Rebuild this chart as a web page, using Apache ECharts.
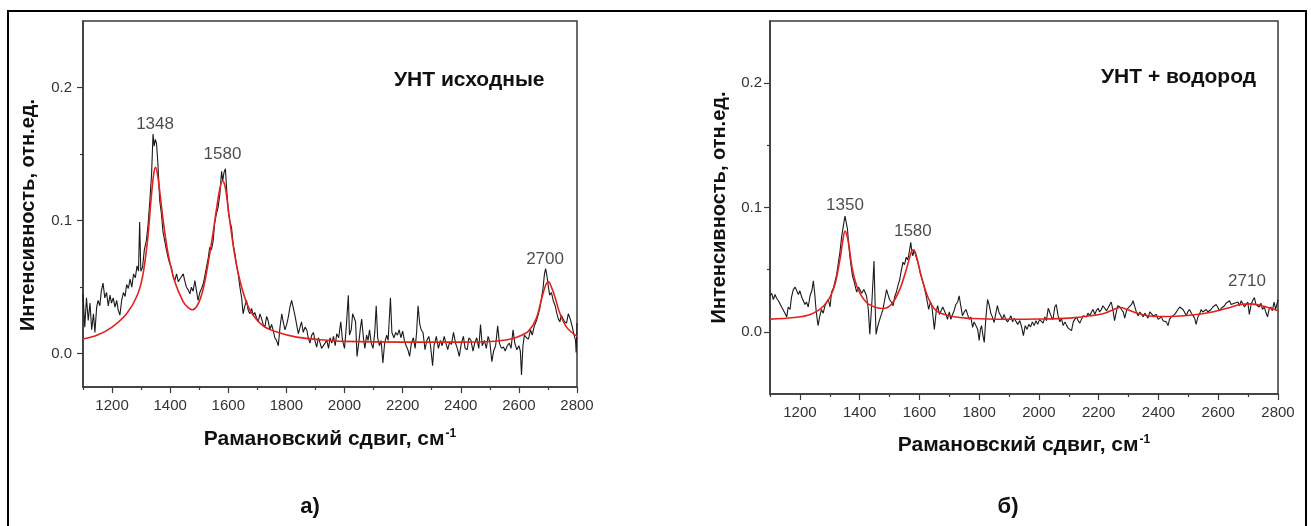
<!DOCTYPE html>
<html>
<head>
<meta charset="utf-8">
<title>Raman spectra</title>
<script src="https://cdn.jsdelivr.net/npm/echarts@6/dist/echarts.min.js"></script>
<style>
  html, body { margin: 0; padding: 0; background: #fff; }
  #chart { width: 1311px; height: 526px; }
</style>
</head>
<body>
<div id="chart"></div>
<script>
// ось x: рамановский сдвиг, см-1
var xMin = 1100, xMax = 2800;
var xTicks = [1200, 1400, 1600, 1800, 2000, 2200, 2400, 2600, 2800];
var xMinorTicks = [1100, 1300, 1500, 1700, 1900, 2100, 2300, 2500, 2700];
var yTicks = [0, 0.1, 0.2];
var yMinorTicks = [0.05, 0.15];

// а) УНТ исходные — спектр
var rawA = [
  [1100,0.045],[1106,0.020],[1112,0.042],[1118,0.025],[1124,0.038],[1130,0.018],[1136,0.030],[1141,0.016],
  [1147,0.035],[1152,0.040],[1158,0.036],[1163,0.047],[1169,0.053],[1175,0.042],[1181,0.046],[1187,0.036],
  [1193,0.044],[1198,0.038],[1204,0.042],[1210,0.035],[1216,0.040],[1221,0.033],[1227,0.029],[1233,0.040],
  [1239,0.046],[1245,0.043],[1250,0.052],[1256,0.049],[1262,0.056],[1268,0.050],[1274,0.060],[1280,0.057],
  [1286,0.066],[1291,0.062],[1295,0.099],[1299,0.062],[1305,0.065],[1311,0.078],[1318,0.085],[1324,0.097],
  [1330,0.115],[1336,0.135],[1341,0.165],[1345,0.156],[1349,0.161],[1353,0.158],[1358,0.142],[1364,0.115],
  [1370,0.105],[1375,0.092],[1381,0.085],[1387,0.078],[1393,0.072],[1398,0.068],[1404,0.065],[1410,0.058],
  [1416,0.055],[1422,0.060],[1428,0.054],[1433,0.056],[1439,0.058],[1445,0.060],[1450,0.055],[1456,0.050],
  [1462,0.048],[1468,0.045],[1473,0.050],[1479,0.047],[1485,0.055],[1490,0.048],[1496,0.040],[1502,0.046],
  [1508,0.049],[1513,0.052],[1519,0.058],[1525,0.065],[1531,0.072],[1536,0.080],[1542,0.078],[1548,0.085],
  [1553,0.098],[1559,0.105],[1565,0.110],[1571,0.120],[1577,0.137],[1581,0.130],[1585,0.136],[1590,0.139],
  [1594,0.125],[1600,0.107],[1605,0.100],[1611,0.095],[1617,0.082],[1623,0.075],[1628,0.067],[1634,0.060],
  [1640,0.050],[1646,0.042],[1651,0.030],[1657,0.036],[1663,0.040],[1668,0.033],[1674,0.030],[1680,0.034],
  [1686,0.029],[1691,0.031],[1697,0.027],[1703,0.024],[1709,0.030],[1715,0.026],[1720,0.022],[1726,0.020],
  [1732,0.028],[1737,0.025],[1743,0.018],[1749,0.022],[1755,0.017],[1760,0.012],[1766,0.010],[1772,0.006],
  [1778,0.020],[1784,0.030],[1789,0.024],[1795,0.018],[1801,0.022],[1807,0.028],[1812,0.035],[1818,0.040],
  [1824,0.034],[1830,0.028],[1835,0.022],[1841,0.015],[1847,0.020],[1852,0.024],[1858,0.016],[1864,0.020],
  [1870,0.018],[1875,0.012],[1881,0.008],[1887,0.014],[1893,0.016],[1898,0.010],[1904,0.005],[1910,0.012],
  [1916,0.008],[1921,0.004],[1927,0.003],[1933,0.008],[1939,0.010],[1945,0.004],[1950,0.012],[1956,0.008],
  [1962,0.013],[1968,0.006],[1973,0.015],[1980,0.012],[1987,0.024],[1993,0.010],[2000,0.004],[2006,0.020],
  [2013,0.044],[2017,0.014],[2023,0.018],[2028,0.030],[2033,0.031],[2038,0.024],[2043,-0.002],[2050,0.010],
  [2055,0.020],[2059,0.026],[2065,0.012],[2070,0.004],[2076,0.014],[2081,0.010],[2086,0.018],[2092,0.008],
  [2098,0.004],[2104,0.016],[2109,0.036],[2114,0.012],[2120,0.006],[2126,0.010],[2132,-0.007],[2138,0.008],
  [2145,0.014],[2150,0.010],[2158,0.042],[2163,0.016],[2170,0.012],[2176,0.016],[2182,0.014],[2188,0.018],
  [2194,0.012],[2200,0.017],[2206,0.010],[2212,0.006],[2218,0.003],[2224,-0.002],[2230,0.008],[2237,0.012],
  [2243,0.004],[2248,0.016],[2253,0.036],[2259,0.022],[2264,0.018],[2270,0.016],[2277,0.003],[2283,0.010],
  [2290,0.013],[2296,0.006],[2303,-0.009],[2308,0.006],[2316,0.013],[2323,0.004],[2330,0.010],[2336,0.006],
  [2343,0.013],[2349,0.008],[2355,0.003],[2362,0.009],[2368,0.007],[2375,0.016],[2382,0.008],[2388,0.004],
  [2395,-0.002],[2402,0.008],[2409,0.013],[2415,0.004],[2422,0.003],[2428,0.012],[2435,0.010],[2442,0.002],
  [2448,0.008],[2455,0.012],[2462,0.004],[2468,0.022],[2474,0.006],[2481,0.010],[2488,0.004],[2494,0.013],
  [2500,0.009],[2507,-0.006],[2513,0.002],[2520,0.006],[2527,0.021],[2533,0.008],[2540,0.004],[2547,0.005],
  [2553,0.002],[2560,0.006],[2567,0.008],[2573,0.004],[2580,0.018],[2586,0.008],[2593,0.003],[2600,0.006],
  [2605,0.002],[2609,-0.016],[2614,0.006],[2619,0.014],[2626,0.012],[2633,0.011],[2640,0.018],[2646,0.014],
  [2652,0.020],[2659,0.024],[2665,0.028],[2672,0.034],[2678,0.042],[2683,0.049],[2688,0.060],[2692,0.064],
  [2697,0.058],[2701,0.051],[2706,0.044],[2712,0.046],[2718,0.040],[2725,0.036],[2731,0.030],[2736,0.026],
  [2741,0.024],[2746,0.029],[2751,0.028],[2757,0.024],[2764,0.023],[2770,0.030],[2777,0.026],[2784,0.020],
  [2791,0.013],[2795,0.010],[2797,0.001],[2800,0.023]
];
// а) аппроксимация
var fitA = [
  [1100,0.011],[1150,0.014],[1200,0.020],[1250,0.030],[1285,0.043],[1305,0.058],[1322,0.085],[1335,0.118],
  [1344,0.136],[1350,0.140],[1357,0.134],[1364,0.122],[1376,0.100],[1393,0.075],[1416,0.054],[1445,0.039],
  [1463,0.0345],[1477,0.033],[1491,0.0355],[1505,0.042],[1519,0.054],[1542,0.083],[1559,0.108],[1571,0.124],
  [1580,0.130],[1586,0.128],[1592,0.122],[1605,0.100],[1623,0.073],[1646,0.050],[1674,0.033],[1720,0.021],
  [1778,0.0155],[1835,0.0125],[1916,0.0105],[2000,0.0093],[2200,0.0087],[2400,0.0087],[2500,0.0092],[2560,0.0105],
  [2600,0.013],[2633,0.017],[2659,0.026],[2679,0.042],[2693,0.052],[2702,0.054],[2712,0.050],[2725,0.042],
  [2740,0.031],[2764,0.020],[2800,0.013]
];

// б) УНТ + водород — спектр
var rawB = [
  [1100,0.029],[1106,0.031],[1111,0.026],[1117,0.030],[1122,0.027],[1128,0.025],[1133,0.024],[1139,0.020],
  [1145,0.021],[1150,0.015],[1156,0.012],[1161,0.020],[1167,0.018],[1172,0.028],[1178,0.034],[1184,0.036],
  [1189,0.035],[1195,0.030],[1200,0.033],[1206,0.028],[1211,0.028],[1217,0.022],[1222,0.024],[1228,0.020],
  [1234,0.029],[1240,0.033],[1245,0.041],[1250,0.030],[1254,0.018],[1258,0.010],[1261,0.005],[1266,0.012],
  [1272,0.018],[1278,0.015],[1284,0.021],[1290,0.024],[1295,0.026],[1301,0.020],[1306,0.032],[1312,0.035],
  [1317,0.040],[1323,0.046],[1329,0.056],[1334,0.064],[1340,0.077],[1346,0.086],[1351,0.093],[1355,0.088],
  [1359,0.083],[1363,0.072],[1367,0.061],[1372,0.052],[1376,0.045],[1382,0.040],[1390,0.032],[1396,0.036],
  [1401,0.037],[1407,0.031],[1414,0.034],[1418,0.033],[1423,0.029],[1429,0.018],[1434,-0.002],[1441,0.024],
  [1448,0.057],[1452,0.020],[1455,-0.002],[1460,0.004],[1464,0.0075],[1470,0.012],[1478,0.018],[1484,0.026],
  [1490,0.034],[1495,0.030],[1500,0.026],[1506,0.024],[1512,0.021],[1517,0.028],[1523,0.032],[1528,0.037],
  [1534,0.042],[1540,0.050],[1545,0.056],[1550,0.054],[1556,0.060],[1560,0.058],[1564,0.061],[1571,0.072],
  [1575,0.064],[1578,0.061],[1582,0.066],[1587,0.065],[1592,0.058],[1598,0.053],[1603,0.047],[1609,0.042],
  [1614,0.038],[1620,0.032],[1625,0.026],[1631,0.018],[1637,0.024],[1642,0.020],[1646,0.011],[1650,0.002],
  [1656,0.016],[1661,0.021],[1667,0.014],[1672,0.0155],[1678,0.020],[1683,0.021],[1689,0.014],[1694,0.010],
  [1700,0.016],[1705,0.010],[1711,0.014],[1716,0.017],[1722,0.022],[1728,0.024],[1733,0.029],[1739,0.020],
  [1744,0.013],[1750,0.016],[1756,0.018],[1761,0.014],[1767,0.010],[1772,0.012],[1778,0.0035],[1783,0.008],
  [1789,0.007],[1795,0.002],[1800,-0.007],[1804,0.002],[1808,0.005],[1812,-0.002],[1817,-0.0086],[1822,0.010],
  [1828,0.026],[1833,0.022],[1839,0.015],[1844,0.012],[1850,0.0075],[1855,0.014],[1861,0.021],[1866,0.016],
  [1872,0.013],[1878,0.010],[1883,0.014],[1889,0.010],[1895,0.008],[1900,0.010],[1906,0.013],[1912,0.008],
  [1917,0.011],[1923,0.010],[1929,0.006],[1936,0.009],[1942,0.004],[1948,-0.003],[1954,0.005],[1960,0.002],
  [1966,0.006],[1972,0.004],[1978,0.008],[1984,0.005],[1990,0.009],[1996,0.006],[2002,0.010],[2008,0.010],
  [2014,0.007],[2020,0.012],[2025,0.009],[2031,0.019],[2036,0.0196],[2042,0.012],[2047,0.010],[2053,0.020],
  [2058,0.022],[2064,0.013],[2070,0.008],[2075,0.011],[2081,0.005],[2087,0.008],[2093,0.005],[2098,0.003],
  [2104,0.002],[2109,0.001],[2115,0.008],[2120,0.010],[2126,0.012],[2131,0.009],[2137,0.007],[2142,0.010],
  [2148,0.013],[2153,0.014],[2159,0.012],[2164,0.015],[2170,0.013],[2176,0.016],[2181,0.018],[2187,0.014],
  [2192,0.017],[2198,0.019],[2203,0.016],[2209,0.018],[2214,0.021],[2220,0.020],[2226,0.017],[2231,0.019],
  [2237,0.022],[2242,0.024],[2248,0.017],[2253,0.009],[2259,0.016],[2264,0.021],[2271,0.020],[2276,0.018],
  [2282,0.016],[2287,0.011],[2293,0.017],[2298,0.019],[2304,0.018],[2310,0.022],[2315,0.025],[2321,0.020],
  [2326,0.016],[2332,0.013],[2338,0.016],[2343,0.014],[2349,0.012],[2354,0.015],[2360,0.013],[2365,0.011],
  [2371,0.016],[2376,0.017],[2382,0.013],[2388,0.012],[2393,0.014],[2399,0.010],[2404,0.011],[2410,0.012],
  [2415,0.009],[2421,0.010],[2426,0.008],[2432,0.005],[2437,0.010],[2443,0.012],[2449,0.013],[2454,0.014],
  [2460,0.016],[2465,0.018],[2471,0.020],[2476,0.0215],[2482,0.018],[2487,0.016],[2493,0.013],[2498,0.016],
  [2504,0.018],[2510,0.015],[2515,0.016],[2521,0.011],[2526,0.006],[2532,0.012],[2537,0.014],[2543,0.018],
  [2548,0.016],[2554,0.015],[2560,0.018],[2565,0.016],[2571,0.015],[2576,0.018],[2582,0.020],[2587,0.019],
  [2593,0.022],[2598,0.020],[2604,0.017],[2610,0.019],[2615,0.018],[2621,0.021],[2626,0.023],[2632,0.024],
  [2638,0.025],[2643,0.022],[2649,0.021],[2654,0.023],[2660,0.022],[2666,0.024],[2671,0.021],[2677,0.025],
  [2682,0.024],[2688,0.020],[2693,0.022],[2699,0.024],[2704,0.014],[2710,0.022],[2715,0.025],[2721,0.0276],
  [2726,0.022],[2732,0.021],[2737,0.020],[2743,0.023],[2748,0.018],[2754,0.020],[2759,0.016],[2765,0.012],
  [2770,0.018],[2776,0.020],[2781,0.017],[2787,0.024],[2792,0.018],[2800,0.026]
];
// б) аппроксимация
var fitB = [
  [1100,0.0102],[1180,0.0115],[1235,0.014],[1280,0.021],[1312,0.034],[1334,0.058],[1344,0.074],[1351,0.081],
  [1358,0.077],[1365,0.068],[1376,0.050],[1395,0.034],[1423,0.0236],[1455,0.0196],[1478,0.0188],[1506,0.022],
  [1534,0.034],[1556,0.050],[1570,0.062],[1578,0.066],[1586,0.064],[1595,0.056],[1606,0.045],[1629,0.0276],
  [1656,0.017],[1700,0.013],[1778,0.0107],[1900,0.0101],[2000,0.0103],[2100,0.0110],[2160,0.0125],[2220,0.015],
  [2250,0.018],[2271,0.0196],[2295,0.018],[2330,0.015],[2370,0.0128],[2409,0.0123],[2460,0.0125],[2520,0.0138],
  [2580,0.016],[2630,0.019],[2674,0.022],[2710,0.0225],[2745,0.021],[2800,0.017]
];

// подписи пиков (где стоит текст)
var peakNamesA = ['1348', '1580', '2700'];
var peakLabelXA = [1348, 1580, 2690];
var peakLabelYA = [0.172, 0.150, 0.071];
var peakNamesB = ['1350', '1580', '2710'];
var peakLabelXB = [1351, 1578, 2696];
var peakLabelYB = [0.102, 0.081, 0.041];

var FONT = "'Liberation Sans', Arial, sans-serif";
var AXIS_COLOR = '#3a3a3a';

function mainX(gi, gap) {
  return {
    type: 'value', gridIndex: gi, position: 'bottom', min: xMin, max: xMax,
    axisLine: { onZero: false, lineStyle: { color: AXIS_COLOR, width: 1.5 } },
    axisTick: { customValues: xTicks, length: 6, lineStyle: { color: AXIS_COLOR, width: 1.2 } },
    axisLabel: {
      customValues: xTicks, margin: 11, fontSize: 15, color: '#333', fontFamily: FONT,
      formatter: function (v) { return String(v); }
    },
    splitLine: { show: false },
    name: '{t|Рамановский сдвиг, см}{s|-1}',
    nameLocation: 'middle',
    nameGap: gap,
    nameTextStyle: {
      rich: {
        t: { fontSize: 21, fontWeight: 'bold', color: '#111', fontFamily: FONT },
        s: { fontSize: 12, fontWeight: 'bold', color: '#111', fontFamily: FONT, verticalAlign: 'top', padding: [0, 0, 10, 1] }
      }
    }
  };
}
function minorX(gi) {
  return {
    type: 'value', gridIndex: gi, position: 'bottom', min: xMin, max: xMax,
    axisLine: { show: false, onZero: false },
    axisTick: { customValues: xMinorTicks, length: 3, lineStyle: { color: AXIS_COLOR, width: 1.2 } },
    axisLabel: { show: false },
    splitLine: { show: false }
  };
}
function mainY(gi, min, gap, margin, shift) {
  return {
    type: 'value', gridIndex: gi, position: 'left', min: min, max: 0.25,
    axisLine: { onZero: false, lineStyle: { color: AXIS_COLOR, width: 1.5 } },
    axisTick: { customValues: yTicks, length: 6, lineStyle: { color: AXIS_COLOR, width: 1.2 } },
    axisLabel: {
      customValues: yTicks, margin: margin, fontSize: 15, color: '#333', fontFamily: FONT,
      formatter: function (v) { return v.toFixed(1); }
    },
    splitLine: { show: false },
    name: 'Интенсивность, отн.ед.',
    nameLocation: 'middle',
    nameGap: gap,
    nameTextStyle: { fontSize: 20, fontWeight: 'bold', color: '#111', fontFamily: FONT, padding: [0, shift, 0, 0] }
  };
}
function minorY(gi, min) {
  return {
    type: 'value', gridIndex: gi, position: 'left', min: min, max: 0.25,
    axisLine: { show: false, onZero: false },
    axisTick: { customValues: yMinorTicks, length: 3, lineStyle: { color: AXIS_COLOR, width: 1.2 } },
    axisLabel: { show: false },
    splitLine: { show: false }
  };
}
function peakSeries(ai, names, xs, ys) {
  return {
    type: 'scatter', xAxisIndex: ai, yAxisIndex: ai, symbolSize: 0, silent: true,
    data: names.map(function (n, i) { return { name: n, value: [xs[i], ys[i]] }; }),
    label: { show: true, position: 'inside', formatter: '{b}', fontSize: 17, color: '#1e1e1e', fontFamily: FONT }
  };
}

var chart = echarts.init(document.getElementById('chart'));
chart.setOption({
  animation: false,
  backgroundColor: '#fff',
  grid: [
    { left: 83, top: 21, width: 494, height: 366, show: true, borderColor: AXIS_COLOR, borderWidth: 1.5 },
    { left: 770, top: 21, width: 508, height: 373, show: true, borderColor: AXIS_COLOR, borderWidth: 1.5 }
  ],
  xAxis: [mainX(0, 41), mainX(1, 40), minorX(0), minorX(1)],
  yAxis: [mainY(0, -0.025, 45, 11, 22), mainY(1, -0.05, 41, 8, 0), minorY(0, -0.025), minorY(1, -0.05)],
  series: [
    { type: 'line', xAxisIndex: 0, yAxisIndex: 0, data: rawA, showSymbol: false,
      lineStyle: { color: '#1a1a1a', width: 1.1 } },
    { type: 'line', xAxisIndex: 0, yAxisIndex: 0, data: fitA, showSymbol: false, smooth: 0.35,
      lineStyle: { color: '#e3211c', width: 1.6 } },
    { type: 'line', xAxisIndex: 1, yAxisIndex: 1, data: rawB, showSymbol: false,
      lineStyle: { color: '#1a1a1a', width: 1.1 } },
    { type: 'line', xAxisIndex: 1, yAxisIndex: 1, data: fitB, showSymbol: false, smooth: 0.35,
      lineStyle: { color: '#e3211c', width: 1.6 } },
    peakSeries(0, peakNamesA, peakLabelXA, peakLabelYA),
    peakSeries(1, peakNamesB, peakLabelXB, peakLabelYB)
  ],
  graphic: [
    { type: 'rect', shape: { x: 8, y: 11, width: 1298, height: 540 },
      style: { fill: 'none', stroke: '#000', lineWidth: 2 } },
    { type: 'text', x: 394, y: 80,
      style: { text: 'УНТ исходные', fontSize: 21, fontWeight: 'bold', fontFamily: FONT, fill: '#111', verticalAlign: 'middle' } },
    { type: 'text', x: 1101, y: 77,
      style: { text: 'УНТ + водород', fontSize: 21, fontWeight: 'bold', fontFamily: FONT, fill: '#111', verticalAlign: 'middle' } },
    { type: 'text', x: 310, y: 507,
      style: { text: 'а)', fontSize: 22, fontWeight: 'bold', fontFamily: FONT, fill: '#111', align: 'center', verticalAlign: 'middle' } },
    { type: 'text', x: 1008, y: 507,
      style: { text: 'б)', fontSize: 22, fontWeight: 'bold', fontFamily: FONT, fill: '#111', align: 'center', verticalAlign: 'middle' } }
  ]
});
</script>
</body>
</html>
